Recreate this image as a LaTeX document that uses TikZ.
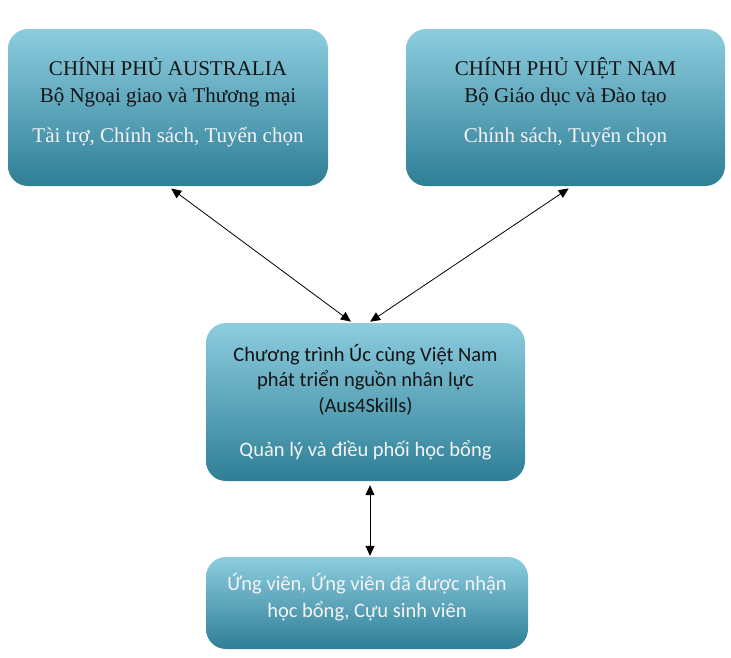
\documentclass[tikz,border=0pt]{standalone}
\usepackage{fontspec}
\setmainfont{Liberation Serif}
\newfontfamily\calibrifont{Carlito}
\usetikzlibrary{arrows.meta}
\definecolor{BoxTop}{HTML}{8DCDDF}
\definecolor{BoxMid}{HTML}{4BACC6}
\definecolor{BoxBottom}{HTML}{2E7E96}
\definecolor{TextWhite}{HTML}{F4F4F4}
\definecolor{TextDark}{HTML}{141414}

\begin{document}
\begin{tikzpicture}[x=1pt, y=-1pt,
  box/.style={rounded corners=20pt, top color=BoxTop, middle color=BoxMid, bottom color=BoxBottom, inner sep=0pt},
  govtext/.style={align=center, text=TextDark, font=\fontsize{21}{27}\selectfont},
  progtext/.style={align=center, text=TextDark, font=\calibrifont\fontsize{20.5}{25.5}\selectfont},
  link/.style={{Triangle[length=10pt, width=9pt]}-{Triangle[length=10pt, width=9pt]}, line width=0.8pt, black}]
  \useasboundingbox (0,0) rectangle (731,657);
  % boxes
  \node[box, minimum width=320pt, minimum height=157pt] (aus) at (168,107.5) {};
  \node[box, minimum width=319pt, minimum height=157pt] (vn) at (565.5,107.5) {};
  \node[box, minimum width=319pt, minimum height=158pt] (prog) at (365.5,402) {};
  \node[box, minimum width=322pt, minimum height=92pt] (cand) at (367,603) {};
  % texts
  \node[govtext] (austext) at (168,102.5) {CHÍNH PHỦ AUSTRALIA\\Bộ Ngoại giao và Thương mại\\[13pt]\textcolor{TextWhite}{Tài trợ, Chính sách, Tuyển chọn}};
  \node[govtext] (vntext) at (565.5,102.5) {CHÍNH PHỦ VIỆT NAM\\Bộ Giáo dục và Đào tạo\\[13pt]\textcolor{TextWhite}{Chính sách, Tuyển chọn}};
  \node[progtext] (progtxt) at (365.5,402) {Chương trình Úc cùng Việt Nam\\phát triển nguồn nhân lực\\(Aus4Skills)\\[19pt]\textcolor{TextWhite}{Quản lý và điều phối học bổng}};
  \node[progtext, text=TextWhite, font=\calibrifont\fontsize{20.5}{27}\selectfont] (candtext) at (367,597) {Ứng viên, Ứng viên đã được nhận\\học bổng, Cựu sinh viên};
  % connectors
  \draw[link, shorten <=4pt, shorten >=2pt] (aus.south) -- ([xshift=-13pt]prog.north);
  \draw[link, shorten <=4pt, shorten >=2pt] ([xshift=6.5pt]vn.south) -- ([xshift=3pt]prog.north);
  \draw[link, shorten <=4pt, shorten >=1pt] ([xshift=4.5pt]prog.south) -- ([xshift=3pt]cand.north);
\end{tikzpicture}
\end{document}
